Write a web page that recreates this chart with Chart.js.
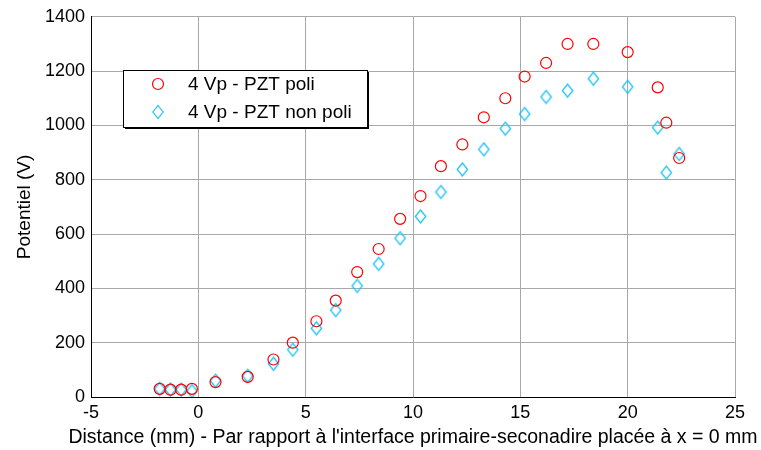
<!DOCTYPE html>
<html>
<head>
<meta charset="utf-8">
<script src="https://cdn.jsdelivr.net/npm/chart.js@4.4.1/dist/chart.umd.min.js"></script>
<style>
  html, body { margin: 0; padding: 0; background: #fff; }
  #wrap { width: 761px; height: 450px; }
</style>
</head>
<body>
<div id="wrap"><canvas id="chart" width="761" height="450"></canvas></div>
<script>
// distance (mm) of each measurement
const distance = [-1.8, -1.3, -0.8, -0.3, 0.8, 2.3, 3.5, 4.4, 5.5, 6.4, 7.4, 8.4, 9.4,
  10.35, 11.3, 12.3, 13.3, 14.3, 15.2, 16.2, 17.2, 18.4, 20.0, 21.4, 21.8, 22.4];
// potential (V), poled PZT
const potPoli = [30, 27, 27, 30, 55, 74, 138, 200, 279, 355, 460, 545, 656,
  740, 850, 930, 1030, 1100, 1180, 1230, 1300, 1300, 1270, 1140, 1010, 880];
// potential (V), unpoled PZT
const potNonPoli = [30, 27, 27, 22, 60, 78, 122, 174, 253, 320, 409, 490, 585,
  665, 755, 838, 912, 988, 1042, 1105, 1128, 1172, 1142, 992, 826, 895];
const xTicks = [-5, 0, 5, 10, 15, 20, 25];
const yTicks = [0, 200, 400, 600, 800, 1000, 1200, 1400];
const seriesLabels = ["4 Vp - PZT poli", "4 Vp - PZT non poli"];
const xTitle = "Distance (mm) - Par rapport à l'interface primaire-seconadire placée à x = 0 mm";

const FONT = "'Liberation Sans', Arial, sans-serif";
const CYAN = "#1ec3f5";

function toPoints(xs, ys) {
  return xs.map((x, i) => ({ x: x, y: ys[i] }));
}

function diamondPath(ctx, cx, cy, r) {
  ctx.beginPath();
  ctx.moveTo(cx, cy - r);
  ctx.lineTo(cx + r * 0.8, cy);
  ctx.lineTo(cx, cy + r);
  ctx.lineTo(cx - r * 0.8, cy);
  ctx.closePath();
}

// diamond marker like MATLAB 'd'
function diamond(r) {
  const c = document.createElement("canvas");
  c.width = 2 * r + 4;
  c.height = 2 * r + 4;
  const g = c.getContext("2d");
  g.strokeStyle = CYAN;
  g.lineWidth = 1.3;
  diamondPath(g, r + 2, r + 2, r);
  g.stroke();
  return c;
}
const diamondImg = diamond(6.5);

// x title drawn by hand: the scale title would be squeezed to the plot width
const wideXTitle = {
  id: "wideXTitle",
  afterDraw(chart) {
    const ctx = chart.ctx;
    const a = chart.chartArea;
    ctx.save();
    ctx.font = "19.5px " + FONT;
    ctx.fillStyle = "#000";
    ctx.textAlign = "center";
    ctx.textBaseline = "middle";
    ctx.fillText(xTitle, (a.left + a.right) / 2, 438);
    ctx.restore();
  }
};

// legend box drawn inside the plot like the MATLAB one
const boxLegend = {
  id: "boxLegend",
  afterDraw(chart) {
    const ctx = chart.ctx;
    const x = 123, y = 70, w = 244, h = 57;
    ctx.save();
    ctx.fillStyle = "#fff";
    ctx.fillRect(x, y, w, h);
    ctx.strokeStyle = "#000";
    ctx.lineWidth = 1;
    ctx.strokeRect(x + 0.5, y + 0.5, w, h);
    ctx.lineWidth = 2;
    ctx.beginPath();
    ctx.moveTo(x + w + 1, y + 2);
    ctx.lineTo(x + w + 1, y + h + 1);
    ctx.lineTo(x + 2, y + h + 1);
    ctx.stroke();
    ctx.font = "19px " + FONT;
    ctx.textBaseline = "middle";
    chart.data.datasets.forEach((ds, i) => {
      const cx = x + 35, cy = y + 14 + i * 28;
      ctx.strokeStyle = ds.borderColor;
      ctx.lineWidth = 1.2;
      if (i === 0) {
        ctx.beginPath();
        ctx.arc(cx, cy, ds.pointRadius, 0, Math.PI * 2);
      } else {
        diamondPath(ctx, cx, cy, 6.5);
      }
      ctx.stroke();
      ctx.fillStyle = "#000";
      ctx.fillText(ds.label, x + 65, cy + 1);
    });
    ctx.restore();
  }
};

new Chart(document.getElementById("chart"), {
  type: "scatter",
  data: {
    datasets: [
      {
        label: seriesLabels[0],
        data: toPoints(distance, potPoli),
        pointStyle: "circle",
        pointRadius: 5.5,
        borderColor: "#ff0000",
        backgroundColor: "rgba(0,0,0,0)",
        borderWidth: 1.2
      },
      {
        label: seriesLabels[1],
        data: toPoints(distance, potNonPoli),
        pointStyle: diamondImg,
        pointRadius: 6.5,
        borderColor: CYAN,
        backgroundColor: "rgba(0,0,0,0)",
        borderWidth: 1.2
      }
    ]
  },
  options: {
    responsive: false,
    animation: false,
    layout: { padding: { top: 7, right: 26, left: 0, bottom: 0 } },
    plugins: {
      legend: { display: false },
      tooltip: { enabled: false }
    },
    scales: {
      x: {
        type: "linear",
        min: -5,
        max: 25,
        afterBuildTicks: (s) => { s.ticks = xTicks.map(v => ({ value: v })); },
        afterFit: (s) => { s.height = 53; },
        ticks: { color: "#000", font: { family: FONT, size: 18 }, padding: 5, maxRotation: 0 },
        grid: { color: "#a8a8a8", lineWidth: 1, drawTicks: false },
        border: { display: true, color: "#000", width: 1 },
        title: { display: false }
      },
      y: {
        min: 0,
        max: 1400,
        afterBuildTicks: (s) => { s.ticks = yTicks.map(v => ({ value: v })); },
        afterFit: (s) => { s.width = 91; },
        ticks: {
          color: "#000",
          font: { family: FONT, size: 18 },
          padding: 6,
          callback: (v) => String(v)
        },
        grid: { color: "#a8a8a8", lineWidth: 1, drawTicks: false },
        border: { display: true, color: "#000", width: 1 },
        title: {
          display: true,
          text: "Potentiel (V)",
          color: "#000",
          font: { family: FONT, size: 19 },
          padding: { top: 13, bottom: 0 }
        }
      }
    }
  },
  plugins: [wideXTitle, boxLegend]
});
</script>
</body>
</html>
